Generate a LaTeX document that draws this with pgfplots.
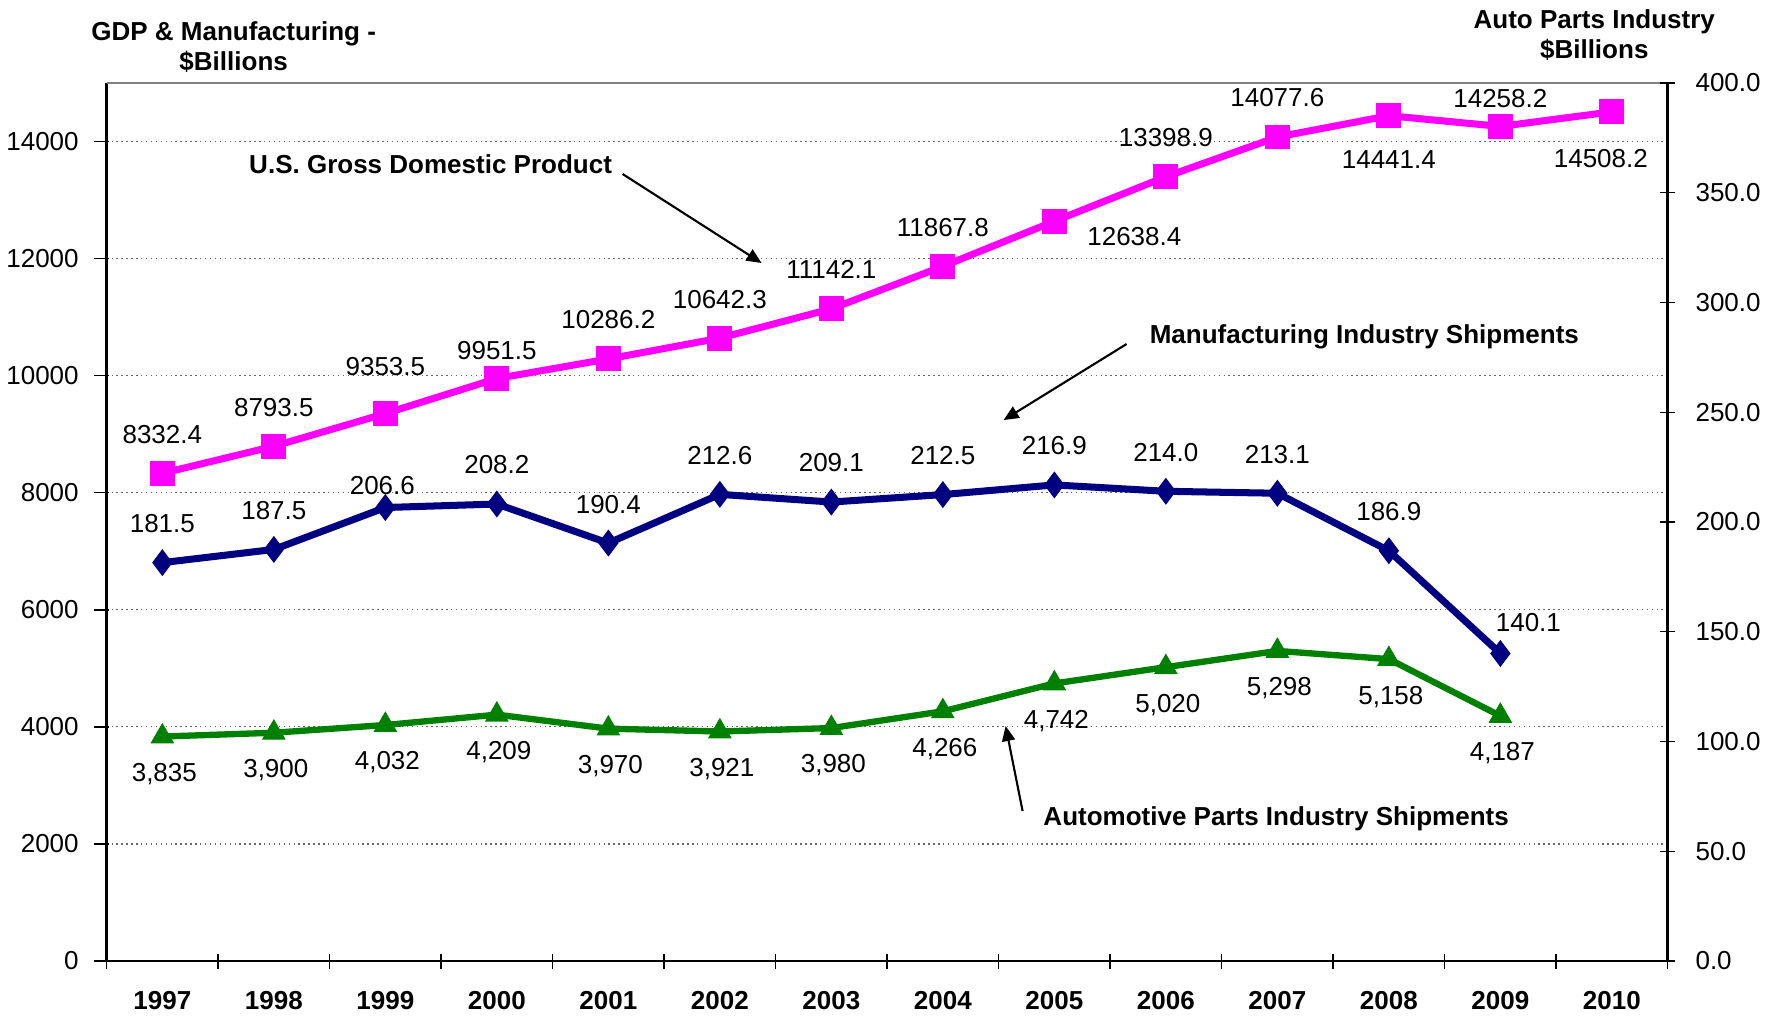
\documentclass[border=0pt]{standalone}
\usepackage{fontspec}
\setmainfont{Liberation Sans}
\usepackage{pgfplots}
\usepackage{pgfplotstable}
\pgfplotsset{compat=1.18}
\usetikzlibrary{arrows.meta}
\definecolor{gdpcol}{RGB}{255,0,255}
\definecolor{autocol}{RGB}{0,0,128}
\definecolor{mfgcol}{RGB}{0,128,0}

% x = year index (0 = 1997)
\pgfplotstableread{
x y lab
0 8332.4 8332.4
1 8793.5 8793.5
2 9353.5 9353.5
3 9951.5 9951.5
4 10286.2 10286.2
5 10642.3 10642.3
6 11142.1 11142.1
7 11867.8 11867.8
8 12638.4 12638.4
9 13398.9 13398.9
10 14077.6 14077.6
11 14441.4 14441.4
12 14258.2 14258.2
13 14508.2 14508.2
}\gdptab

\pgfplotstableread{
x y lab
0 3835 3,835
1 3900 3,900
2 4032 4,032
3 4209 4,209
4 3970 3,970
5 3921 3,921
6 3980 3,980
7 4266 4,266
8 4742 4,742
9 5020 5,020
10 5298 5,298
11 5158 5,158
12 4187 4,187
}\mfgtab

\pgfplotstableread{
x y lab
0 181.5 181.5
1 187.5 187.5
2 206.6 206.6
3 208.2 208.2
4 190.4 190.4
5 212.6 212.6
6 209.1 209.1
7 212.5 212.5
8 216.9 216.9
9 214.0 214.0
10 213.1 213.1
11 186.9 186.9
12 140.1 140.1
}\autotab

\pgfplotsset{
  base/.style={
    at={(0,0)}, anchor=south west,
    scale only axis, width=15.61cm, height=8.78cm,
    xmin=-0.5, xmax=13.5, clip=false,
    axis line style={line width=0.7pt, black},
    tick align=center, major tick length=0.15cm,
    tick style={black, line width=0.4pt},
    /pgf/number format/assume math mode=true,
  },
  lbl/.style={
    nodes near coords, point meta=explicit symbolic,
    every node near coord/.append style={anchor=center, text=black, #1},
  },
}

\begin{document}
\begin{tikzpicture}[font=\fontsize{7.4}{8.6}\selectfont]
\begin{axis}[base,
    ymin=0, ymax=15000,
    axis x line*=bottom, axis y line*=left,
    ytick={0,2000,...,14000},
    scaled y ticks=false,
    yticklabel style={/pgf/number format/fixed, /pgf/number format/1000 sep={}},
    y tick style={xshift=-0.05cm},
    ymajorgrids, grid style={densely dotted, black!60, line width=0.35pt},
    xtick={-0.5,0.5,...,13.5},
    x tick label as interval,
    xticklabels={1997,1998,1999,2000,2001,2002,2003,2004,2005,2006,2007,2008,2009,2010},
    x tick label style={font=\fontsize{7.4}{8.6}\selectfont\bfseries, yshift=-0.1cm},
    y tick label style={xshift=-0.08cm},
]
\draw[black!50, line width=0.8pt] (rel axis cs:0,1) -- (rel axis cs:1,1);

\addplot[gdpcol, line width=2pt, mark=square*, mark size=3.4pt,
    mark options={solid, line width=0.3pt}, lbl={yshift=0.39cm},
    coordinate style/.condition={\coordindex==2}{yshift=0.08cm},
    coordinate style/.condition={\coordindex==3}{yshift=-0.11cm},
    coordinate style/.condition={\coordindex==8}{xshift=0.8cm, yshift=-0.54cm},
    coordinate style/.condition={\coordindex==11}{yshift=-0.83cm},
    coordinate style/.condition={\coordindex==12}{yshift=-0.11cm},
    coordinate style/.condition={\coordindex==13}{xshift=-0.11cm, yshift=-0.86cm}]
    table[x=x, y=y, meta=lab] {\gdptab};
\addplot[mfgcol, line width=1.8pt, mark=triangle*, mark size=3.6pt,
    mark options={solid, line width=0.3pt}, lbl={xshift=0.02cm, yshift=-0.375cm}]
    table[x=x, y=y, meta=lab] {\mfgtab};

\node[font=\fontsize{7.4}{8.6}\selectfont\bfseries, align=center]
    at (rel axis cs:0.0814,1.041) {GDP \& Manufacturing -\\\$Billions};
\node[font=\fontsize{7.4}{8.6}\selectfont\bfseries, align=center]
    at (rel axis cs:0.953,1.055) {Auto Parts Industry\\\$Billions};

\node[font=\fontsize{7.4}{8.6}\selectfont\bfseries] at (axis cs:2.406,13607)
    {U.S. Gross Domestic Product};
\draw[-{Triangle[length=0.15cm, width=0.13cm]}, line width=0.6pt]
    (axis cs:4.128,13445) -- (axis cs:5.374,11925);
\node[font=\fontsize{7.4}{8.6}\selectfont\bfseries] at (axis cs:10.78,10661)
    {Manufacturing Industry Shipments};
\draw[-{Triangle[length=0.15cm, width=0.13cm]}, line width=0.6pt]
    (axis cs:8.648,10541) -- (axis cs:7.545,9242);
\node[font=\fontsize{7.4}{8.6}\selectfont\bfseries] at (axis cs:9.989,2426)
    {Automotive Parts Industry Shipments};
\draw[-{Triangle[length=0.15cm, width=0.13cm]}, line width=0.6pt]
    (axis cs:7.715,2563) -- (axis cs:7.563,4015);
\end{axis}

\begin{axis}[base,
    ymin=0, ymax=400,
    axis x line=none, axis y line*=right,
    ytick={0,50,...,400},
    yticklabel style={/pgf/number format/fixed, /pgf/number format/fixed zerofill,
      /pgf/number format/precision=1, xshift=0.08cm},
]
\addplot[autocol, line width=2pt, mark=diamond*, mark size=3.6pt,
    mark options={solid, line width=0.3pt}, lbl={yshift=0.39cm},
    coordinate style/.condition={\coordindex==2}{xshift=-0.03cm, yshift=-0.17cm},
    coordinate style/.condition={\coordindex==12}{xshift=0.28cm, yshift=-0.08cm}]
    table[x=x, y=y, meta=lab] {\autotab};
\end{axis}

\pgfresetboundingbox
\path (-1.066cm,-0.57cm) rectangle (16.724cm,9.61cm);
\end{tikzpicture}
\end{document}
